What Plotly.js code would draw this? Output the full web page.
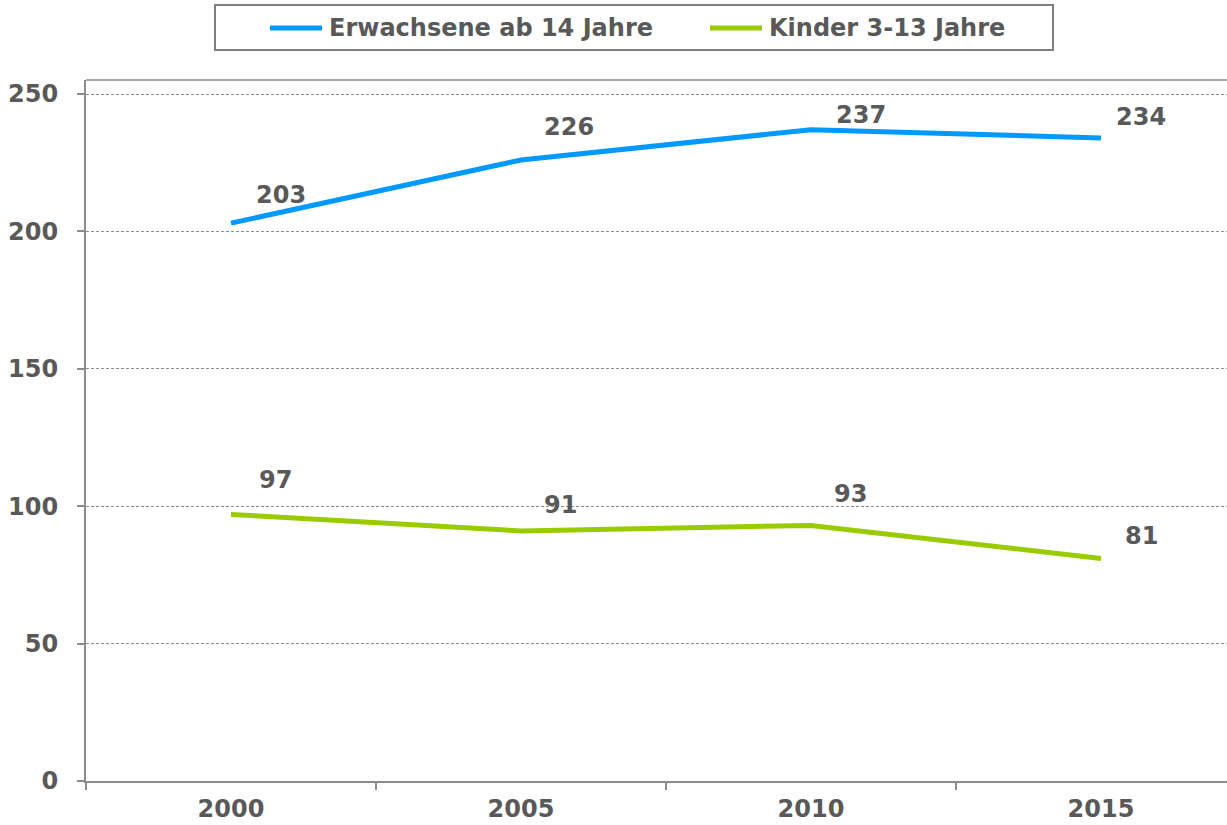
<!DOCTYPE html>
<html><head><meta charset="utf-8">
<script src="https://cdn.plot.ly/plotly-3.0.1.min.js"></script>
<style>html,body{margin:0;padding:0;overflow:hidden;background:#fff}</style>
</head><body><div id="chart" style="width:1227px;height:825px"></div>
<script>
const years = ['2000', '2005', '2010', '2015'];
const seriesNames = ['Erwachsene ab 14 Jahre', 'Kinder 3-13 Jahre'];
const adults = [203, 226, 237, 234];
const children = [97, 91, 93, 81];
const yTicks = [0, 50, 100, 150, 200, 250];

const colors = ['#0099FF', '#99CC00'];
const textColor = '#595959';
const FONT = 'Verdana, "DejaVu Sans", sans-serif';

// label pixel offsets (style only)
const adultOffsets = [[50, 28], [48, 33], [50, 15], [40, 21]];
const childOffsets = [[44, 34], [39, 26], [39, 31], [40, 22]];

// geometry of plot area (pixels)
const L = 86, T = 80, W = 1227 - L, H = 781 - T;
const px = x => (x - L) / W;
const py = y => (T + H - y) / H;

const traces = [adults, children].map((vals, i) => ({
  x: years, y: vals, type: 'scatter', mode: 'lines', name: seriesNames[i],
  line: {color: colors[i], width: 5}, showlegend: false, hoverinfo: 'skip'
}));

const annotations = [];
[[adults, adultOffsets], [children, childOffsets]].forEach(([vals, offs]) => {
  vals.forEach((v, j) => annotations.push({
    x: j, y: v, xref: 'x', yref: 'y', text: String(v), showarrow: false,
    xshift: offs[j][0], yshift: offs[j][1],
    font: {family: FONT, size: 24, color: textColor, weight: 'bold'}
  }));
});

// manual legend
const legendText = [327, 767];
const legendLine = [[270, 322], [710, 762]];
const legY = 28;
const shapes = [
  {type: 'rect', xref: 'paper', yref: 'paper', x0: px(215), x1: px(1053), y0: py(50), y1: py(5),
   line: {color: '#7f7f7f', width: 2}, fillcolor: 'rgba(0,0,0,0)'},
  {type: 'line', xref: 'paper', yref: 'paper', x0: 0, x1: 1, y0: 1, y1: 1,
   line: {color: '#a6a6a6', width: 2}}
];
seriesNames.forEach((n, i) => {
  shapes.push({type: 'line', xref: 'paper', yref: 'paper', x0: px(legendLine[i][0]), x1: px(legendLine[i][1]),
    y0: py(legY), y1: py(legY), line: {color: colors[i], width: 5}});
  annotations.push({xref: 'paper', yref: 'paper', x: px(legendText[i]), y: py(legY), xanchor: 'left', yanchor: 'middle',
    text: n, showarrow: false, font: {family: FONT, size: 24, color: textColor, weight: 'bold'}});
});

const layout = {
  width: 1227, height: 825,
  margin: {l: L, r: 0, t: T, b: 825 - T - H},
  paper_bgcolor: '#fff', plot_bgcolor: '#fff',
  showlegend: false,
  font: {family: FONT, color: textColor},
  xaxis: {
    type: 'category', range: [-0.5, (W) / 290 - 0.5], tickson: 'boundaries',
    ticks: 'outside', ticklen: 7, tickcolor: '#8c8c8c', tickwidth: 2,
    showline: true, linecolor: '#8c8c8c', linewidth: 2, showgrid: false, zeroline: false,
    tickfont: {family: FONT, size: 24, color: textColor, weight: 'bold'}, ticklabelstandoff: 5
  },
  yaxis: {
    range: [0, 250 + 14 / 2.748], tickvals: yTicks, ticktext: yTicks.map(String),
    ticks: 'outside', ticklen: 7, tickcolor: '#8c8c8c', tickwidth: 2,
    showline: true, linecolor: '#8c8c8c', linewidth: 2,
    showgrid: true, gridcolor: '#8c8c8c', gridwidth: 1, griddash: '3px,2px', zeroline: false,
    tickfont: {family: FONT, size: 24, color: textColor, weight: 'bold'}, ticklabelstandoff: 14
  },
  shapes: shapes,
  annotations: annotations
};

Plotly.newPlot('chart', traces, layout, {displayModeBar: false, staticPlot: true});
</script></body></html>
